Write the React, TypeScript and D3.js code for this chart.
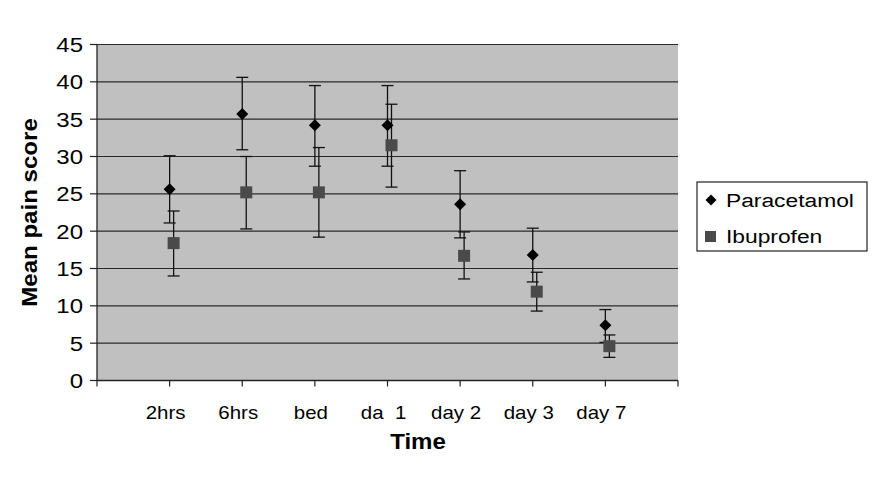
import React from "react";
import * as d3 from "d3";

const categories = ["2hrs", "6hrs", "bed", "da  1", "day 2", "day 3", "day 7"];
const paraMean = [25.6, 35.7, 34.2, 34.2, 23.6, 16.8, 7.4];
const paraLow = [21.1, 30.9, 28.7, 28.7, 19.1, 13.2, 5.1];
const paraHigh = [30.1, 40.6, 39.5, 39.5, 28.1, 20.4, 9.5];
const ibuMean = [18.4, 25.2, 25.2, 31.5, 16.7, 11.9, 4.6];
const ibuLow = [14.0, 20.3, 19.2, 25.9, 13.6, 9.3, 3.1];
const ibuHigh = [22.7, 30.0, 31.2, 37.0, 19.9, 14.5, 6.1];
const yTicks = [0, 5, 10, 15, 20, 25, 30, 35, 40, 45];
const xTicks = [0, 1, 2, 3, 4, 5, 6, 7, 8];

const font = "Liberation Sans, Arial, sans-serif";

function T(props: {
  x: number; y: number; size: number; sx?: number; anchor?: string; bold?: boolean; rotate?: number; children: any;
}) {
  const { x, y, size, sx = 1.17, anchor = "start", bold = false, rotate = 0, children } = props;
  return (
    <text
      transform={`translate(${x},${y}) rotate(${rotate}) scale(${sx},1)`}
      textAnchor={anchor}
      fontFamily={font}
      fontSize={size}
      fontWeight={bold ? "bold" : "normal"}
      fill="#000"
      style={{ whiteSpace: "pre" }}
    >
      {children}
    </text>
  );
}

export default function App() {
  const W = 884, H = 477;
  const left = 97, right = 678, top = 44.5, bottom = 380.5;
  const x = d3.scaleLinear().domain([0, 8]).range([left, right]);
  const y = d3.scaleLinear().domain([0, 45]).range([bottom, top]);
  const ibuOff = 0.055;
  const cap = 6;

  const errBar = (cx: number, lo: number, hi: number, key: string) => (
    <g key={key} stroke="#111" strokeWidth={1.3}>
      <line x1={cx} x2={cx} y1={y(lo)} y2={y(hi)} />
      <line x1={cx - cap} x2={cx + cap} y1={y(lo)} y2={y(lo)} />
      <line x1={cx - cap} x2={cx + cap} y1={y(hi)} y2={y(hi)} />
    </g>
  );
  const diamond = (cx: number, cy: number, r: number) =>
    `M${cx},${cy - r}L${cx + r},${cy}L${cx},${cy + r}L${cx - r},${cy}Z`;

  return (
    <svg width={W} height={H} style={{ position: "absolute", left: 0, top: 0, background: "#fff" }}>
      <rect x={left} y={top} width={right - left} height={bottom - top} fill="#c0c0c0" />
      {yTicks.map((t) => (
        <g key={"y" + t}>
          {t > 0 && (
            <line x1={left} x2={right} y1={y(t)} y2={y(t)} stroke="#2a2a2a" strokeWidth={1.2} />
          )}
          <line x1={left - 7} x2={left} y1={y(t)} y2={y(t)} stroke="#222" strokeWidth={1.2} />
          <T x={83} y={y(t) + 7.5} size={20.5} anchor="end">{String(t)}</T>
        </g>
      ))}
      <line x1={left} x2={left} y1={top} y2={bottom} stroke="#222" strokeWidth={1.3} />
      <line x1={left} x2={right} y1={bottom} y2={bottom} stroke="#222" strokeWidth={1.3} />
      {xTicks.map((t) => (
        <line key={"xt" + t} x1={x(t)} x2={x(t)} y1={bottom} y2={bottom + 6} stroke="#222" strokeWidth={1.2} />
      ))}
      {categories.map((c, i) => (
        <T key={"xl" + i} x={x(i + 1) - 4} y={419} size={17.5} anchor="middle">{c}</T>
      ))}
      {paraMean.map((v, i) => errBar(x(i + 1), paraLow[i], paraHigh[i], "pe" + i))}
      {ibuMean.map((v, i) => errBar(x(i + 1 + ibuOff), ibuLow[i], ibuHigh[i], "ie" + i))}
      {paraMean.map((v, i) => (
        <path key={"pm" + i} d={diamond(x(i + 1), y(v), 6)} fill="#000" />
      ))}
      {ibuMean.map((v, i) => (
        <rect key={"im" + i} x={x(i + 1 + ibuOff) - 6} y={y(v) - 6} width={12} height={12} fill="#4a4a4a" />
      ))}
      <text
        transform={`translate(37,${(top + bottom) / 2}) rotate(-90) scale(1.12,1)`}
        textAnchor="middle" fontFamily={font} fontSize={21.5} fontWeight="bold" fill="#000"
      >
        Mean pain score
      </text>
      <T x={418} y={449} size={21.5} anchor="middle" bold sx={1.12}>Time</T>
      <rect x={697} y={182} width={170} height={69} fill="#fff" stroke="#222" strokeWidth={1.2} />
      <path d={diamond(711, 200, 5.5)} fill="#000" />
      <T x={726} y={207} size={19} sx={1.2}>Paracetamol</T>
      <rect x={705} y={231} width={11} height={11} fill="#4a4a4a" />
      <T x={726} y={243} size={19} sx={1.2}>Ibuprofen</T>
    </svg>
  );
}
